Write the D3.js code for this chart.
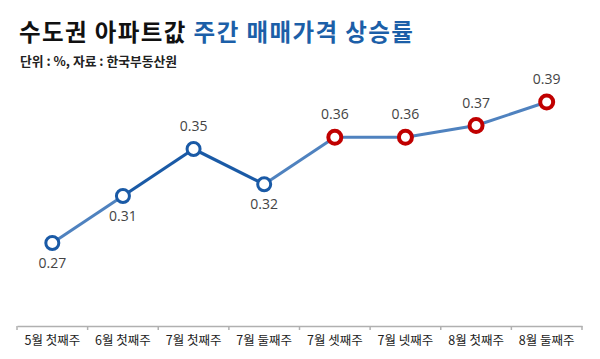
<!DOCTYPE html>
<html><head><meta charset="utf-8">
<script src="https://cdn.jsdelivr.net/npm/d3@7"></script>
<style>
html,body{margin:0;padding:0;background:#fff;}
svg{display:block;font-family:"Noto Sans CJK KR","Noto Sans",sans-serif;}
</style></head>
<body>
<svg id="c" width="600" height="359"></svg>
<script>
const categories = ["5월 첫째주","6월 첫째주","7월 첫째주","7월 둘째주","7월 셋째주","7월 넷째주","8월 첫째주","8월 둘째주"];
const values = [0.27,0.31,0.35,0.32,0.36,0.36,0.37,0.39];
const highlight = [false,false,false,false,true,true,true,true];
const labelBelow = [true,true,false,true,false,false,false,false];

const svg = d3.select("#c");
const x = d3.scaleBand().domain(categories).range([17,582]);
const y = d3.scaleLinear().domain([0.27,0.39]).range([243,102]);
const cx = d => x(d) + x.bandwidth()/2;

// title
const t = svg.append("text").attr("x",19).attr("y",41)
  .attr("font-size",23.5).attr("font-weight",700).attr("letter-spacing",1.4);
t.append("tspan").attr("fill","#111").text("수도권 아파트값 ");
t.append("tspan").attr("fill","#1c5fa8").text("주간 매매가격 상승률");
svg.append("text").attr("x",20).attr("y",66).attr("font-size",12.8).attr("font-weight",700)
  .attr("fill","#222").text("단위 : %, 자료 : 한국부동산원");

// axis
const axis = d3.axisBottom(x).tickSize(0).tickPadding(10);
const ag = svg.append("g").attr("transform","translate(0,326)").call(axis);
ag.select(".domain").attr("stroke","#b0b0b0").attr("stroke-width",1.5);
ag.selectAll(".tick text").attr("font-size",12.5).attr("fill","#222")
  .attr("font-family","\"Noto Sans CJK KR\",sans-serif");
const bounds = categories.map(c => x(c)).concat([x.range()[1]]);
ag.selectAll("line.bt").data(bounds).enter().append("line").attr("class","bt")
  .attr("x1",d=>d).attr("x2",d=>d).attr("y1",0).attr("y2",4)
  .attr("stroke","#b0b0b0").attr("stroke-width",1.5);

// line segments
const pts = values.map((v,i)=>({x:cx(categories[i]), y:y(v), v, i}));
const segColor = i => (i===1||i===2) ? "#1a5aa6" : "#4f82bf";
const segWidth = i => (i===1||i===2) ? 3.2 : 3;
for (let i=0;i<pts.length-1;i++){
  svg.append("line").attr("x1",pts[i].x).attr("y1",pts[i].y)
    .attr("x2",pts[i+1].x).attr("y2",pts[i+1].y)
    .attr("stroke",segColor(i)).attr("stroke-width",segWidth(i));
}

// markers
svg.selectAll("circle.m").data(pts).enter().append("circle").attr("class","m")
  .attr("cx",d=>d.x).attr("cy",d=>d.y).attr("r",6.5)
  .attr("fill","#fff")
  .attr("stroke",d=>highlight[d.i] ? "#c00000" : "#1a5aa6")
  .attr("stroke-width",d=>highlight[d.i] ? 4 : 3);

// labels
svg.selectAll("text.v").data(pts).enter().append("text").attr("class","v")
  .attr("x",d=>d.x).attr("y",d=>labelBelow[d.i] ? d.y+25 : d.y-18)
  .attr("text-anchor","middle").attr("font-size",14).attr("fill","#444")
  .attr("font-family","\"Open Sans\",sans-serif")
  .text(d=>d.v.toFixed(2));
</script>
</body></html>
